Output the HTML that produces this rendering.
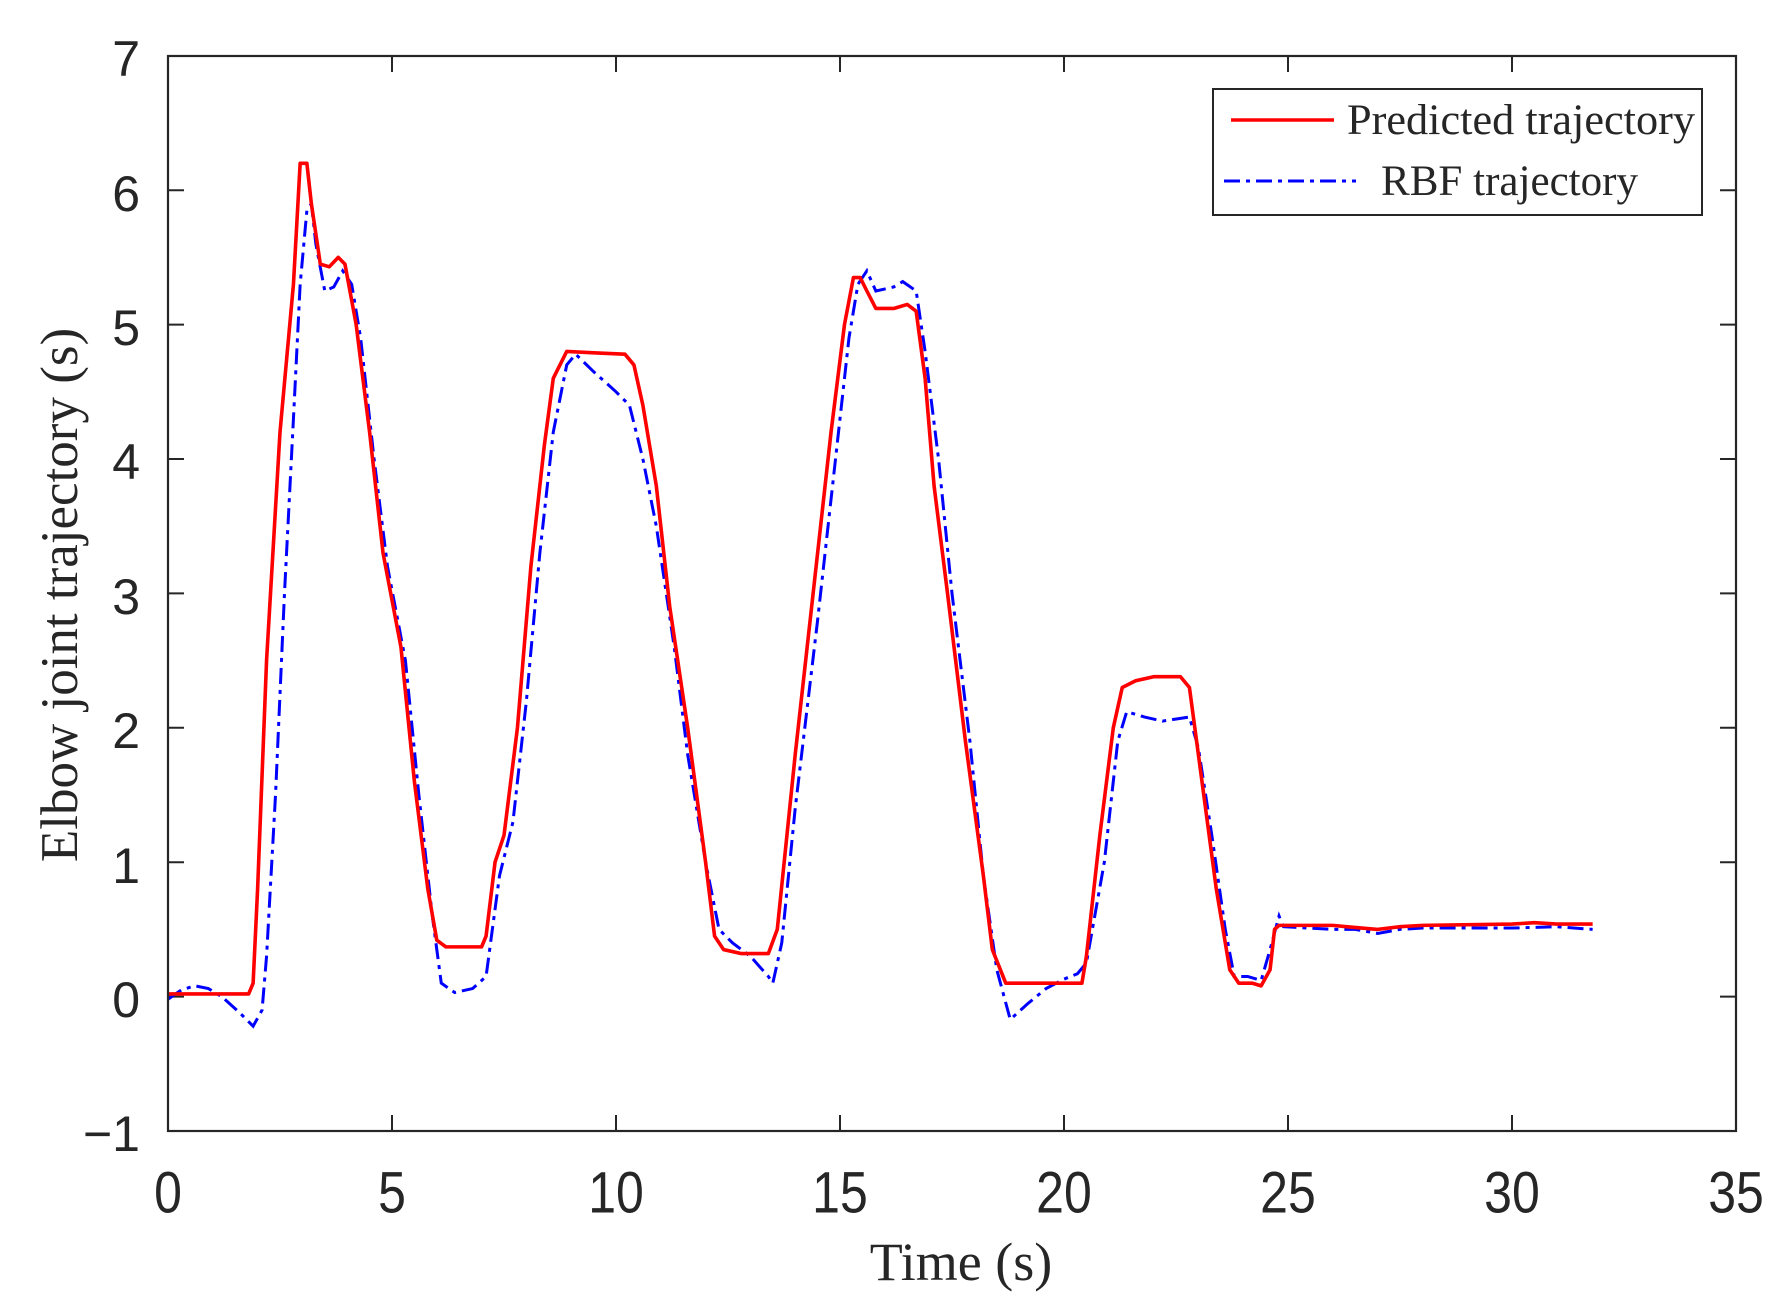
<!DOCTYPE html>
<html><head><meta charset="utf-8"><style>
html,body{margin:0;padding:0;background:#fff;}
svg{display:block;}
.t{font-family:"Liberation Sans",Arial,sans-serif;font-size:50px;fill:#262626;}
.s{font-family:"Liberation Serif","Times New Roman",serif;fill:#262626;}
</style></head><body>
<svg width="1785" height="1305" viewBox="0 0 1785 1305" xmlns="http://www.w3.org/2000/svg">
<rect width="1785" height="1305" fill="#fff"/>
<g stroke="#262626" stroke-width="2">
<path d="M392,1131v-16M616,1131v-16M840,1131v-16M1064,1131v-16M1288,1131v-16M1512,1131v-16
M392,56v16M616,56v16M840,56v16M1064,56v16M1288,56v16M1512,56v16
M168,996.6h16M168,862.2h16M168,727.8h16M168,593.4h16M168,459h16M168,324.6h16M168,190.2h16
M1736,996.6h-16M1736,862.2h-16M1736,727.8h-16M1736,593.4h-16M1736,459h-16M1736,324.6h-16M1736,190.2h-16"/>
</g>
<g class="t" text-anchor="middle">
<text x="168" y="1208" transform="translate(0,-201) scale(1,1.17)">0</text>
<text x="392" y="1208" transform="translate(0,-201) scale(1,1.17)">5</text>
<text x="616" y="1208" transform="translate(0,-201) scale(1,1.17)">10</text>
<text x="840" y="1208" transform="translate(0,-201) scale(1,1.17)">15</text>
<text x="1064" y="1208" transform="translate(0,-201) scale(1,1.17)">20</text>
<text x="1288" y="1208" transform="translate(0,-201) scale(1,1.17)">25</text>
<text x="1512" y="1208" transform="translate(0,-201) scale(1,1.17)">30</text>
<text x="1736" y="1208" transform="translate(0,-201) scale(1,1.17)">35</text>
</g>
<g class="t" text-anchor="end">
<text x="140" y="1151">−1</text><text x="140" y="1017">0</text><text x="140" y="883">1</text>
<text x="140" y="748">2</text><text x="140" y="614">3</text><text x="140" y="479">4</text>
<text x="140" y="345">5</text><text x="140" y="211">6</text><text x="140" y="76">7</text>
</g>
<text class="s" x="961" y="1280" font-size="54" text-anchor="middle">Time (s)</text>
<text class="s" font-size="53" text-anchor="middle" transform="translate(77,595) rotate(-90)">Elbow joint trajectory (s)</text>
<g transform="translate(168,996.6) scale(44.8,-134.4)" fill="none">
<polyline vector-effect="non-scaling-stroke" stroke="#0000ff" stroke-width="3" stroke-dasharray="16 6 4 6" points="0,-0.02 0.3,0.05 0.6,0.08 0.9,0.06 1.2,0 1.6,-0.12 1.9,-0.22 2.1,-0.1 2.2,0.3 2.4,1.5 2.6,3 2.8,4.3 2.95,5.3 3.1,5.85 3.2,5.9 3.3,5.6 3.5,5.25 3.7,5.28 3.9,5.4 4.1,5.3 4.3,4.9 4.6,4 4.9,3.2 5.3,2.5 5.6,1.5 5.9,0.6 6.1,0.1 6.4,0.03 6.8,0.06 7.1,0.15 7.4,0.9 7.7,1.3 8,2.2 8.3,3.3 8.6,4.2 8.9,4.7 9.1,4.78 9.5,4.65 10,4.5 10.3,4.4 10.6,4 10.9,3.5 11.3,2.6 11.6,1.8 12,1 12.3,0.5 12.6,0.4 13,0.3 13.4,0.15 13.5,0.1 13.7,0.4 14,1.4 14.5,2.8 14.9,4 15.2,4.9 15.4,5.3 15.6,5.4 15.8,5.25 16.2,5.28 16.4,5.32 16.7,5.25 16.9,4.8 17.2,4 17.5,3 17.9,1.9 18.2,0.9 18.5,0.2 18.8,-0.17 19.2,-0.05 19.6,0.06 20,0.13 20.3,0.17 20.5,0.25 20.9,1 21.2,1.9 21.4,2.12 21.8,2.08 22.2,2.05 22.8,2.08 23,1.85 23.3,1.2 23.6,0.5 23.8,0.15 24.1,0.15 24.4,0.12 24.6,0.35 24.8,0.6 24.9,0.52 26,0.5 26.5,0.5 27,0.47 27.5,0.5 28,0.51 30,0.51 31,0.52 31.8,0.5"/>
<polyline vector-effect="non-scaling-stroke" stroke="#ff0000" stroke-width="3.6" stroke-linejoin="round" points="0,0.02 1.8,0.02 1.9,0.1 2,0.8 2.2,2.5 2.5,4.2 2.8,5.3 2.95,6.2 3.1,6.2 3.2,5.9 3.4,5.45 3.6,5.43 3.8,5.5 3.95,5.45 4.2,5 4.5,4.2 4.8,3.3 5.2,2.6 5.5,1.6 5.8,0.8 6,0.42 6.2,0.37 7,0.37 7.1,0.45 7.3,1 7.5,1.2 7.8,2 8.1,3.2 8.4,4.1 8.6,4.6 8.9,4.8 9.5,4.79 10.2,4.78 10.4,4.7 10.6,4.4 10.9,3.8 11.2,2.9 11.6,2 12,1 12.2,0.45 12.4,0.35 12.8,0.32 13.4,0.32 13.6,0.5 14,1.8 14.4,3 14.8,4.2 15.1,5 15.3,5.35 15.45,5.35 15.6,5.25 15.8,5.12 16.2,5.12 16.5,5.15 16.7,5.1 16.9,4.6 17.1,3.8 17.4,3 17.8,1.9 18.2,0.9 18.4,0.35 18.7,0.1 20.4,0.1 20.5,0.3 20.8,1.2 21.1,2 21.3,2.3 21.6,2.35 22,2.38 22.6,2.38 22.8,2.3 23,1.8 23.4,0.8 23.7,0.2 23.9,0.1 24.2,0.1 24.4,0.08 24.6,0.2 24.7,0.5 24.8,0.53 26,0.53 26.3,0.52 27,0.5 27.5,0.52 28,0.53 30,0.54 30.5,0.55 31,0.54 31.8,0.54"/>
</g>
<rect x="168" y="56" width="1568" height="1075" fill="none" stroke="#262626" stroke-width="2.2"/>
<rect x="1213" y="89" width="489" height="126" fill="#fff" stroke="#262626" stroke-width="2"/>
<line x1="1231" y1="120" x2="1334" y2="120" stroke="#ff0000" stroke-width="3.6"/>
<line x1="1224" y1="181" x2="1356" y2="181" stroke="#0000ff" stroke-width="3" stroke-dasharray="16 6 4 6"/>
<text class="s" x="1347" y="134" font-size="43" textLength="348" lengthAdjust="spacingAndGlyphs">Predicted  trajectory</text>
<text class="s" x="1381" y="195" font-size="43" textLength="257" lengthAdjust="spacingAndGlyphs">RBF trajectory</text>
</svg>
</body></html>
